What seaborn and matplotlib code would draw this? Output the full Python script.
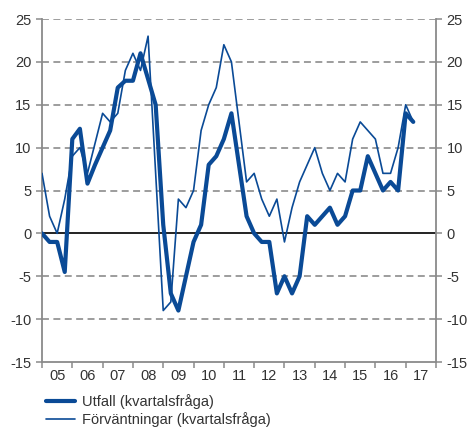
import matplotlib
matplotlib.use("Agg")
import matplotlib.pyplot as plt
import seaborn as sns
import pandas as pd
import numpy as np
from matplotlib.lines import Line2D

# Quarterly series 2005Q1 .. 2017Q2
start_year = 2005
utfall = [0, -1, -1, -4.5, 11, 12.2, 5.8, 8, 10, 12,
          17, 17.8, 17.8, 21, 18, 15, 1, -7, -9, -5,
          -1, 1, 8, 9, 11, 14, 8, 2, 0, -1,
          -1, -7, -5, -7, -5, 2, 1, 2, 3, 1,
          2, 5, 5, 9, 7, 5, 6, 5, 14, 13]
forvantningar = [7, 2, 0, 4, 9, 10, 7, 10.5, 14, 13,
                 14, 19, 21, 19, 23, 7, -9, -8, 4, 3,
                 5, 12, 15, 17, 22, 20, 13, 6, 7, 4,
                 2, 4, -1, 3, 6, 8, 10, 7, 5, 7,
                 6, 11, 13, 12, 11, 7, 7, 10, 15, 13]
series_names = ["Utfall (kvartalsfråga)", "Förväntningar (kvartalsfråga)"]
year_labels = ["05", "06", "07", "08", "09", "10", "11", "12", "13", "14", "15", "16", "17"]
y_ticks = [-15, -10, -5, 0, 5, 10, 15, 20, 25]

n = len(utfall)
t = [start_year + i / 4 for i in range(n)]
df = pd.DataFrame({"t": t, "utfall": utfall, "forv": forvantningar})

sns.set_style("white")
plt.rcParams["font.family"] = ["Liberation Sans", "DejaVu Sans"]
plt.rcParams["lines.scale_dashes"] = False

color = "#0a4a96"
text_color = "#333333"
spine_color = "#8a8a8a"

fig = plt.figure(figsize=(4.71, 4.28), dpi=100)
ax = fig.add_axes([42 / 471, 1 - 362 / 428, (436 - 42) / 471, (362 - 19) / 428])

# grid lines
for v in y_ticks:
    if v == -15:
        continue
    if v == 0:
        ax.axhline(0, color="#111111", lw=1.3, zorder=1)
    else:
        ax.axhline(v, color="#8c8c8c", lw=1.2, linestyle=(0, (5, 3.2)), zorder=1)

sns.lineplot(data=df, x="t", y="forv", ax=ax, color=color, lw=1.2, zorder=3)
sns.lineplot(data=df, x="t", y="utfall", ax=ax, color=color, lw=3.0, zorder=4)

ax.set_xlim(2005, 2018)
ax.set_ylim(-15, 25)
ax.set_xlabel("")
ax.set_ylabel("")

ax.set_yticks(y_ticks)
ax.set_yticklabels([str(v) for v in y_ticks])
ax.tick_params(axis="y", which="both", left=True, right=True, labelleft=True, labelright=True,
               direction="out", length=4.5, width=1.1, color=spine_color,
               labelsize=10.5, labelcolor=text_color, pad=3)

ax.set_xticks(list(range(2005, 2019)))
ax.set_xticklabels([])
ax.set_xticks([2005.5 + i for i in range(len(year_labels))], minor=True)
ax.set_xticklabels(year_labels, minor=True)
ax.tick_params(axis="x", which="major", direction="out", length=4.5, width=1.1, color=spine_color,
               bottom=True)
ax.tick_params(axis="x", which="minor", length=0, labelsize=10.5, labelcolor=text_color, pad=5)

for s in ["left", "right", "bottom"]:
    ax.spines[s].set_color(spine_color)
    ax.spines[s].set_linewidth(1.3)
ax.spines["top"].set_visible(False)

handles = [Line2D([0], [0], color=color, lw=3.0), Line2D([0], [0], color=color, lw=1.2)]
fig.legend(handles, series_names, loc="upper left", bbox_to_anchor=(46 / 471, 1 - 394 / 428),
           frameon=False, fontsize=10.5, handlelength=2.0, handletextpad=0.45,
           labelspacing=0.2, borderpad=0, borderaxespad=0, labelcolor=text_color)

fig.savefig("out.png", dpi=100)
